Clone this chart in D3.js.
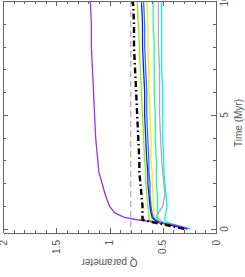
<!DOCTYPE html>
<html>
<head>
<meta charset="utf-8">
<script src="https://cdn.jsdelivr.net/npm/d3@7/dist/d3.min.js"></script>
<style>
  body { margin: 0; background: #fff; }
  svg { display: block; }
  text { font-family: "Liberation Sans", Arial, sans-serif; font-size: 10px; fill: #555; }
  .axis path, .axis line { stroke: #666; shape-rendering: crispEdges; }
</style>
</head>
<body>
<div id="chart"></div>
<script>
// time samples (Myr), shared by every run
const times = [0, 0.1, 0.2, 0.3, 0.4, 0.5, 0.7, 1, 1.5, 2, 2.5, 3, 4, 5, 6, 7, 8, 9, 10];

// Q parameter for each run
const qPurple = [0.26, 0.33, 0.42, 0.58, 0.74, 0.86, 0.95, 1.00, 1.04, 1.07, 1.10, 1.11, 1.13, 1.14, 1.15, 1.16, 1.17, 1.17, 1.18];
const qChartreuse = [0.28, 0.38, 0.48, 0.57, 0.62, 0.63, 0.63, 0.64, 0.65, 0.66, 0.66, 0.67, 0.68, 0.69, 0.70, 0.71, 0.72, 0.73, 0.74];
const qBlue = [0.27, 0.36, 0.46, 0.54, 0.58, 0.60, 0.61, 0.62, 0.63, 0.64, 0.64, 0.65, 0.66, 0.67, 0.67, 0.68, 0.69, 0.69, 0.70];
const qRoyal = [0.27, 0.35, 0.45, 0.53, 0.57, 0.59, 0.60, 0.61, 0.62, 0.62, 0.63, 0.63, 0.64, 0.65, 0.65, 0.66, 0.67, 0.67, 0.68];
const qYellow = [0.28, 0.35, 0.44, 0.52, 0.56, 0.58, 0.58, 0.59, 0.59, 0.60, 0.60, 0.61, 0.61, 0.62, 0.63, 0.63, 0.64, 0.64, 0.65];
const qSpring = [0.28, 0.35, 0.43, 0.50, 0.53, 0.55, 0.55, 0.55, 0.55, 0.56, 0.56, 0.56, 0.57, 0.57, 0.58, 0.58, 0.58, 0.59, 0.59];
const qGray = [0.29, 0.36, 0.44, 0.51, 0.55, 0.56, 0.54, 0.50, 0.48, 0.49, 0.50, 0.51, 0.52, 0.53, 0.53, 0.53, 0.54, 0.54, 0.54];
const qCyan = [0.24, 0.32, 0.40, 0.46, 0.48, 0.48, 0.47, 0.46, 0.47, 0.48, 0.49, 0.49, 0.50, 0.50, 0.50, 0.51, 0.51, 0.51, 0.51];
const qMean = [0.30, 0.40, 0.50, 0.60, 0.69, 0.69, 0.69, 0.69, 0.70, 0.71, 0.72, 0.72, 0.73, 0.74, 0.75, 0.76, 0.77, 0.77, 0.78];

const qReference = 0.8;
const timeTicks = [0, 5, 10];
const qTicks = [0, 0.5, 1, 1.5, 2];

const runs = [
  { values: qGray, color: "#aaaaaa" },
  { values: qCyan, color: "#00f0ff" },
  { values: qSpring, color: "#22ff88" },
  { values: qYellow, color: "#ffe600" },
  { values: qChartreuse, color: "#88ee11" },
  { values: qRoyal, color: "#1e78ff" },
  { values: qBlue, color: "#0a1cf0" },
  { values: qPurple, color: "#9933ee" }
];

const W = 245, H = 277;
const frame = { left: 3, right: 216, top: 1, bottom: 232.5 };

const svg = d3.select("#chart").append("svg")
  .attr("width", W)
  .attr("height", H);

// the plot is drawn turned on its side: Q runs right-to-left, time bottom-to-top
const x = d3.scaleLinear().domain([0, 2]).range([frame.right, frame.left]);
const y = d3.scaleLinear().domain([-0.16, 10]).range([frame.bottom, frame.top]);

svg.append("clipPath").attr("id", "clip")
  .append("rect")
  .attr("x", frame.left).attr("y", frame.top)
  .attr("width", frame.right - frame.left)
  .attr("height", frame.bottom - frame.top);

const plot = svg.append("g").attr("clip-path", "url(#clip)");

plot.append("line")
  .attr("x1", x(qReference)).attr("x2", x(qReference))
  .attr("y1", frame.top).attr("y2", frame.bottom)
  .attr("stroke", "#999")
  .attr("stroke-width", 1)
  .attr("stroke-dasharray", "6,4");

const line = d3.line()
  .x((d) => x(d))
  .y((d, i) => y(times[i]));

plot.selectAll(".run")
  .data(runs)
  .enter()
  .append("path")
  .attr("class", "run")
  .attr("d", (d) => line(d.values))
  .attr("fill", "none")
  .attr("stroke", (d) => d.color)
  .attr("stroke-width", 1.3);

plot.append("path")
  .attr("d", line(qMean))
  .attr("fill", "none")
  .attr("stroke", "#000")
  .attr("stroke-width", 2.4)
  .attr("stroke-dasharray", "6,3,1.5,3");

// axes, with ticks pointing inwards on all four sides
function axisPair(g, axisFn, scale, minor, major, minorLen, majorLen) {
  g.append("g").attr("class", "axis")
    .call(axisFn(scale).tickValues(minor).tickSizeInner(-minorLen).tickSizeOuter(0).tickFormat(""));
  g.append("g").attr("class", "axis")
    .call(axisFn(scale).tickValues(major).tickSizeInner(-majorLen).tickSizeOuter(0).tickFormat(""));
}

const tMinor = d3.range(0, 10.01, 1);
const qMinor = d3.range(0, 2.001, 0.1);

axisPair(svg.append("g").attr("transform", `translate(${frame.right},0)`), d3.axisRight, y, tMinor, timeTicks, 3, 5);
axisPair(svg.append("g").attr("transform", `translate(${frame.left},0)`), d3.axisLeft, y, tMinor, timeTicks, 3, 5);
axisPair(svg.append("g").attr("transform", `translate(0,${frame.bottom})`), d3.axisBottom, x, qMinor, qTicks, 3, 5);
axisPair(svg.append("g").attr("transform", `translate(0,${frame.top})`), d3.axisTop, x, qMinor, qTicks, 3, 5);

// tick labels, turned with the plot
svg.selectAll(".tlabel")
  .data(timeTicks)
  .enter()
  .append("text")
  .attr("class", "tlabel")
  .attr("text-anchor", "middle")
  .attr("transform", (d) => `translate(228,${y(d)}) rotate(-90)`)
  .text((d) => d);

svg.selectAll(".qlabel")
  .data(qTicks)
  .enter()
  .append("text")
  .attr("class", "qlabel")
  .attr("text-anchor", "end")
  .attr("dy", "0.35em")
  .attr("transform", (d) => `translate(${x(d)},240) rotate(-90)`)
  .text((d) => d);

svg.append("text")
  .attr("text-anchor", "middle")
  .attr("transform", `translate(242,123) rotate(-90)`)
  .text("Time (Myr)");

svg.append("text")
  .attr("text-anchor", "middle")
  .attr("transform", `translate(${(frame.left + frame.right) / 2},259) rotate(180)`)
  .text("Q parameter");
</script>
</body>
</html>
